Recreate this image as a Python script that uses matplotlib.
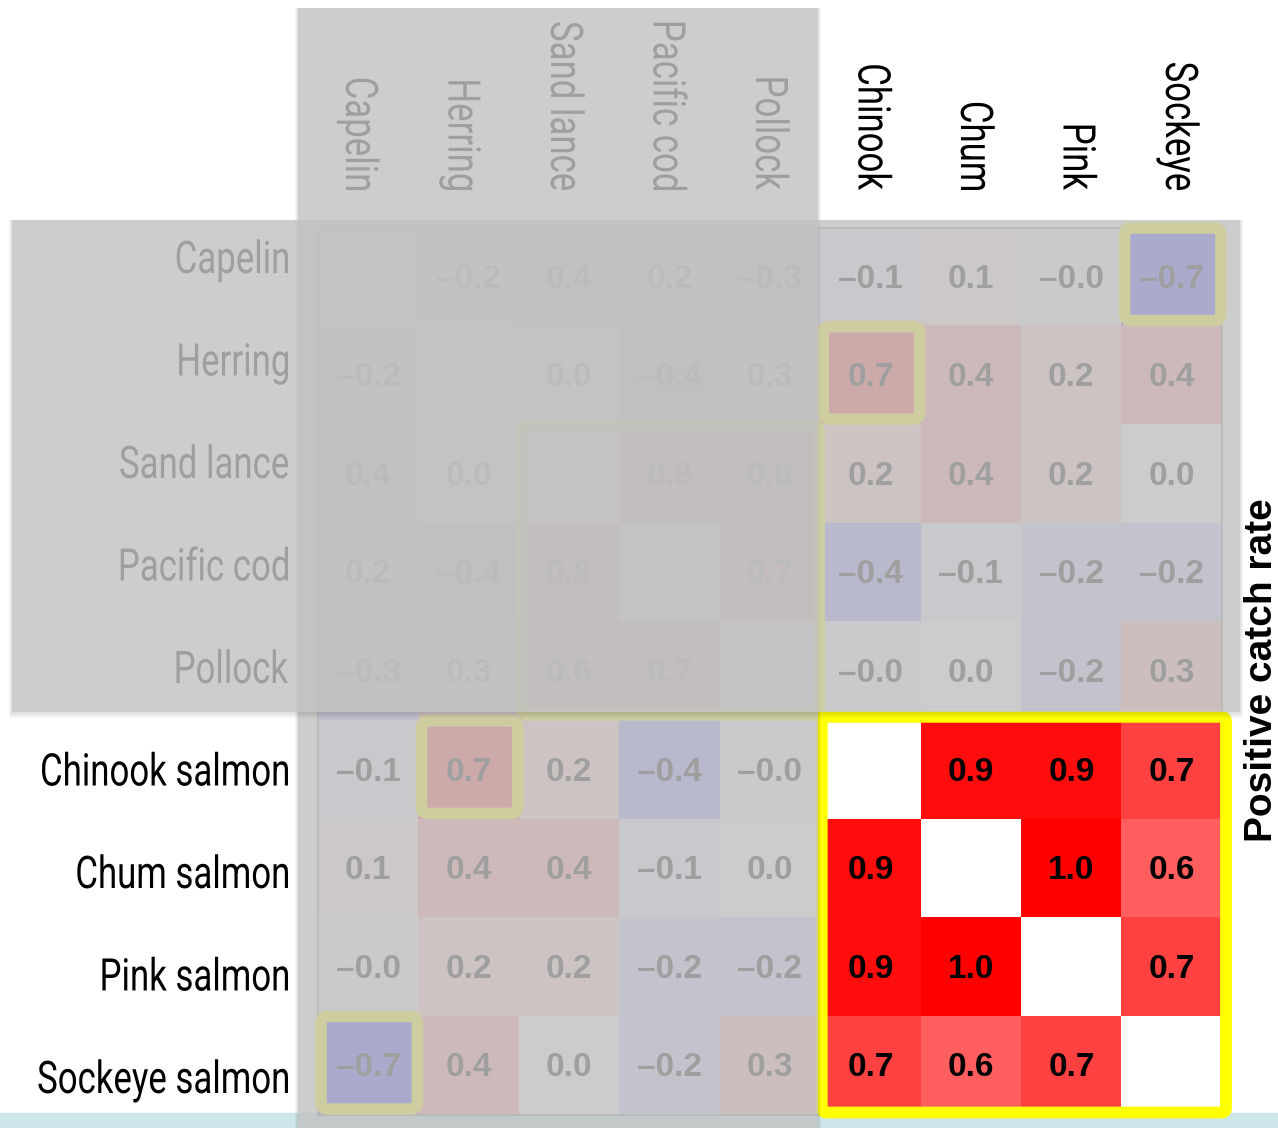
import numpy as np
import matplotlib
matplotlib.use("Agg")
import matplotlib.pyplot as plt
from matplotlib.patches import Rectangle, FancyBboxPatch, PathPatch
from matplotlib.textpath import TextPath
from matplotlib.font_manager import FontProperties
from matplotlib.transforms import Affine2D

plt.rcParams['font.family'] = ['Liberation Sans', 'DejaVu Sans']

# species order used for both axes
col_labels = ['Capelin', 'Herring', 'Sand lance', 'Pacific cod', 'Pollock',
              'Chinook', 'Chum', 'Pink', 'Sockeye']
row_labels = ['Capelin', 'Herring', 'Sand lance', 'Pacific cod', 'Pollock',
              'Chinook salmon', 'Chum salmon', 'Pink salmon', 'Sockeye salmon']

# correlation of positive catch rate (diagonal left blank)
nan = np.nan
capelin = [nan, -0.2, 0.4, 0.2, -0.3, -0.1, 0.1, -0.04, -0.7]
herring = [-0.2, nan, 0.0, -0.4, 0.3, 0.7, 0.4, 0.2, 0.4]
sand_lance = [0.4, 0.0, nan, 0.8, 0.6, 0.2, 0.4, 0.2, 0.0]
pacific_cod = [0.2, -0.4, 0.8, nan, 0.7, -0.4, -0.1, -0.2, -0.2]
pollock = [-0.3, 0.3, 0.6, 0.7, nan, -0.04, 0.0, -0.2, 0.3]
chinook = [-0.1, 0.7, 0.2, -0.4, -0.04, nan, 0.9, 0.9, 0.7]
chum = [0.1, 0.4, 0.4, -0.1, 0.0, 0.9, nan, 1.0, 0.6]
pink = [-0.04, 0.2, 0.2, -0.2, -0.2, 0.9, 1.0, nan, 0.7]
sockeye = [-0.7, 0.4, 0.0, -0.2, 0.3, 0.7, 0.6, 0.7, nan]

corr = np.array([capelin, herring, sand_lance, pacific_cod, pollock,
                 chinook, chum, pink, sockeye])

# highlighted blocks: (first row, first col, n rows, n cols)
highlights = [(0, 8, 1, 1), (1, 5, 1, 1), (5, 1, 1, 1), (8, 0, 1, 1), (2, 2, 3, 3)]
salmon_block = (5, 5, 4, 4)

W, H = 1278, 1128
fig = plt.figure(figsize=(W / 100, H / 100), dpi=100)

# pixel-space layer behind the heatmap (slide strip + condensed labels)
bg = fig.add_axes([0, 0, 1, 1], zorder=0)
bg.set_xlim(0, W)
bg.set_ylim(H, 0)
bg.axis('off')
bg.add_patch(Rectangle((0, 1113), W, 20, color='#cde6e9'))

ax = fig.add_axes([318 / W, 1 - 1115 / H, 904 / W, 887 / H], zorder=1)
cmap = plt.get_cmap('bwr').copy()
cmap.set_bad('white')
ax.imshow(corr, cmap=cmap, vmin=-0.95, vmax=0.95, aspect='auto')

for i in range(corr.shape[0]):
    for j in range(corr.shape[1]):
        v = corr[i, j]
        if np.isnan(v):
            continue
        ax.text(j, i + 0.02, f'{v:.1f}'.replace('-', '\u2013'), ha='center', va='center',
                fontsize=24, fontweight='bold', color='black')

ax.set_xticks([])
ax.set_yticks([])
for s in ax.spines.values():
    s.set_color('#888888')
    s.set_linewidth(1.2)

# condensed labels (the slide used a narrow font)
fp = FontProperties(family='Roboto', weight='normal')
fsize = 45
sx = 248 / TextPath((0, 0), 'Chinook salmon', size=fsize, prop=fp).get_extents().x1
cap = 0.711 * fsize
step = 102.5
for i, lab in enumerate(row_labels):
    p = TextPath((0, 0), lab, size=fsize, prop=fp)
    cy = 257 + step * i
    tr = Affine2D().scale(sx, -1).translate(288 - sx * p.get_extents().x1, cy + cap / 2)
    bg.add_patch(PathPatch(tr.transform_path(p), color='black', lw=0))
for j, lab in enumerate(col_labels):
    p = TextPath((0, 0), lab, size=fsize, prop=fp)
    cx = 362 + step * j
    tr = Affine2D(np.array([[0, 1, cx - cap / 2],
                            [sx, 0, 190 - sx * p.get_extents().x1],
                            [0, 0, 1]]))
    bg.add_patch(PathPatch(tr.transform_path(p), color='black', lw=0))

for r, c, nr, nc in highlights:
    ax.add_patch(FancyBboxPatch((c - 0.5 + 0.03, r - 0.5 + 0.0), nc - 0.04, nr - 0.06,
                                boxstyle='round,pad=0,rounding_size=0.07',
                                fill=False, edgecolor='#ffff00', linewidth=8.3,
                                clip_on=False, zorder=5))
r, c, nr, nc = salmon_block
ax.add_patch(FancyBboxPatch((c - 0.485, r - 0.54), nc + 0.025, nr + 0.015,
                            boxstyle='round,pad=0,rounding_size=0.05',
                            fill=False, edgecolor='#ffff00', linewidth=8.5,
                            clip_on=False, zorder=6))

fig.text(1262 / W, 1 - 670 / H, 'Positive catch rate', rotation=90,
         ha='center', va='center', fontsize=28, fontweight='bold')

# translucent grey panels that dim the forage fish part
ov = fig.add_axes([0, 0, 1, 1], zorder=3)
ov.set_xlim(0, W)
ov.set_ylim(H, 0)
ov.axis('off')
for x0, y0, w, h in [(298, 8, 520, 1130), (12, 220, 1228, 492)]:
    for k in (6, 4, 2):
        ov.add_patch(Rectangle((x0 - k / 2, y0), w + k, h + k, color='black',
                               alpha=0.04, linewidth=0))
    ov.add_patch(Rectangle((x0, y0), w, h, color='#c8c8c8', alpha=0.8, linewidth=0))

fig.savefig('out.png', dpi=100)
